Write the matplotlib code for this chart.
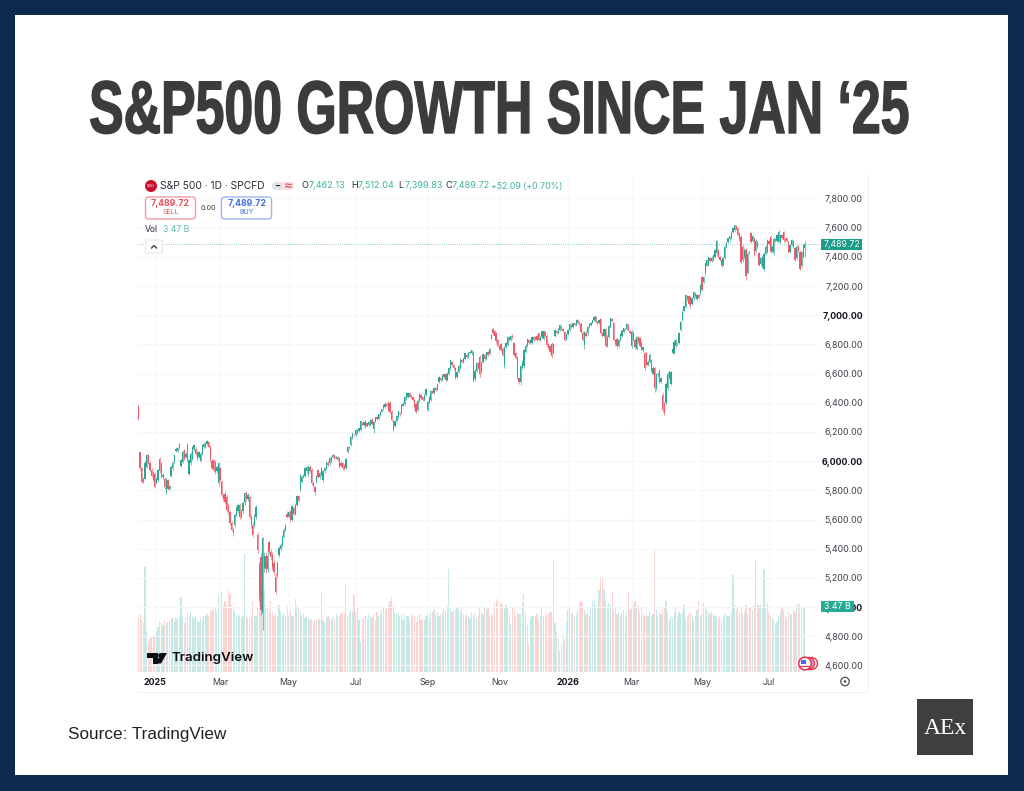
import numpy as np
import matplotlib
matplotlib.use("Agg")
import matplotlib.pyplot as plt
import matplotlib.patheffects as pe
from matplotlib.patches import Rectangle, FancyBboxPatch, Circle, Polygon
from matplotlib.transforms import Affine2D

# daily candles (bar 0 is the stray one at the left edge)
opens = [6380,6060,5950,5860,5880,5960,6040,5990,5940,5925,5915,5850,5870,6015,5985,5890,5880,5790,5870,5810,
         5897,5950,5995,6070,6070,6116,5965,5995,6075,6030,6116,5915,5984,6018,6080,6086,6064,6030,6002,6052,
         6100,6098,6116,6132,6098,6000,6006,5995,5930,5847,5950,5858,5770,5778,5755,5700,5653,5573,5530,5560,
         5630,5660,5700,5620,5660,5710,5780,5740,5756,5620,5560,5560,5620,5493,5288,5345,4960,5270,5350,5260,
         5448,5380,5356,5300,5208,5220,5356,5400,5425,5482,5530,5640,5620,5653,5600,5680,5640,5700,5760,5800,
         5860,5890,5900,5930,5904,5961,5940,5850,5820,5860,5940,5890,5905,5870,5930,5950,5990,5985,6000,6030,
         6041,6020,6030,6020,5990,5985,5970,5950,6060,6098,6110,6160,6180,6178,6190,6205,6212,6260,6250,6235,
         6260,6250,6247,6285,6220,6270,6300,6290,6315,6340,6361,6370,6395,6407,6400,6340,6270,6240,6275,6300,
         6330,6330,6380,6395,6430,6441,6468,6450,6440,6418,6395,6350,6415,6450,6440,6420,6455,6350,6400,6420,
         6480,6465,6500,6490,6544,6570,6555,6600,6595,6555,6600,6635,6680,6660,6640,6580,6610,6640,6690,6680,
         6703,6730,6715,6740,6738,6750,6560,6620,6670,6715,6610,6680,6725,6700,6745,6735,6840,6909,6890,6875,
         6830,6790,6805,6770,6660,6780,6795,6850,6830,6860,6810,6740,6715,6570,6540,6640,6650,6750,6790,6830,
         6810,6810,6850,6840,6860,6875,6830,6850,6840,6885,6860,6800,6790,6806,6740,6860,6890,6880,6897,6925,
         6905,6885,6840,6870,6900,6935,6920,6945,6932,6965,6950,6943,6880,6795,6880,6875,6920,6935,6950,6965,
         6993,6955,6950,6975,6880,6860,6905,6790,6850,6920,6975,6945,6830,6840,6790,6830,6860,6885,6905,6909,
         6935,6890,6790,6880,6830,6770,6850,6842,6810,6760,6739,6739,6660,6680,6690,6600,6637,6500,6590,6625,
         6545,6454,6397,6397,6500,6570,6530,6740,6739,6790,6810,6808,6899,6968,7030,7059,7130,7130,7125,7075,
         7115,7150,7110,7140,7150,7264,7230,7287,7340,7344,7390,7370,7380,7400,7424,7447,7400,7380,7345,7392,
         7470,7505,7520,7530,7570,7584,7610,7595,7560,7538,7470,7400,7447,7290,7425,7562,7510,7527,7440,7500,
         7424,7350,7335,7320,7420,7435,7510,7538,7440,7425,7520,7510,7505,7505,7550,7573,7515,7530,7504,7435,
         7480,7510,7460,7390,7470,7435,7340,7400,7462.13]
closes = [6290,5950,5860,5880,5990,6040,5990,5940,5900,5870,5825,5880,5940,5930,5890,5905,5820,5875,5810,5830,
          5961,5990,6041,6086,6090,6090,6006,6064,6018,6050,6006,6006,6052,6098,6110,6048,6018,6060,6052,6110,
          6120,6120,6139,6098,6006,5950,5938,5927,5960,5984,5870,5767,5740,5721,5664,5650,5573,5530,5505,5630,
          5680,5700,5620,5660,5710,5780,5740,5770,5620,5560,5493,5620,5687,5390,5070,4980,5470,5350,5260,5350,
          5380,5340,5276,5240,5105,5300,5402,5425,5482,5530,5560,5620,5650,5596,5690,5640,5700,5760,5730,5905,
          5890,5900,5950,5957,5961,5930,5847,5830,5790,5900,5890,5920,5950,5930,5950,5990,5975,6020,6030,6041,
          6020,6030,6010,5960,5970,5950,5945,6015,6098,6090,6167,6190,6178,6212,6212,6225,6276,6250,6265,6276,
          6240,6270,6281,6255,6270,6300,6290,6320,6340,6355,6384,6395,6380,6350,6338,6280,6213,6275,6310,6345,
          6320,6385,6395,6440,6464,6468,6440,6438,6420,6370,6340,6415,6460,6430,6420,6455,6495,6407,6440,6480,
          6465,6500,6490,6530,6578,6555,6590,6580,6555,6600,6640,6692,6660,6635,6570,6610,6650,6703,6680,6705,
          6738,6715,6740,6750,6760,6550,6620,6670,6640,6600,6680,6735,6700,6745,6730,6770,6863,6875,6860,6820,
          6790,6770,6760,6730,6780,6810,6850,6830,6860,6850,6730,6710,6570,6540,6650,6680,6760,6790,6838,6810,
          6830,6852,6830,6850,6830,6830,6850,6890,6893,6860,6795,6780,6750,6720,6800,6898,6880,6905,6932,6905,
          6890,6830,6870,6900,6943,6920,6945,6932,6970,6950,6940,6885,6830,6885,6860,6920,6940,6950,6965,6990,
          6955,6945,6970,6875,6860,6905,6790,6850,6925,6984,6960,6830,6800,6790,6830,6870,6895,6910,6900,6943,
          6900,6880,6886,6830,6780,6850,6820,6790,6762,6780,6637,6660,6680,6730,6620,6640,6500,6590,6600,6545,
          6570,6350,6330,6530,6600,6615,6612,6770,6819,6830,6800,6880,6956,7025,7060,7139,7110,7075,7060,7120,
          7160,7130,7140,7120,7205,7173,7264,7356,7380,7401,7370,7395,7412,7450,7509,7400,7380,7340,7390,7470,
          7500,7527,7540,7573,7595,7618,7590,7550,7520,7367,7380,7450,7270,7420,7430,7505,7540,7414,7510,7470,
          7345,7390,7400,7420,7470,7515,7490,7435,7470,7525,7510,7550,7573,7550,7530,7515,7520,7510,7435,7480,
          7516,7470,7380,7470,7440,7320,7430,7480,7489.72]
# wick lengths above the body top / below the body bottom
upper_wicks = [5,8,10,8,10,8,10,8,12,10,8,10,8,10,8,12,8,10,10,8,
               8,10,8,8,8,10,10,10,8,10,8,10,12,8,8,10,10,8,10,8,
               8,8,8,8,10,12,10,12,10,8,12,12,12,15,12,12,12,15,15,12,
               12,12,12,15,12,10,12,15,12,15,20,15,15,20,30,25,10,30,30,35,
               15,20,20,20,25,15,15,12,12,15,10,15,10,10,12,12,10,10,10,5,
               12,10,8,8,10,10,10,8,10,8,8,8,8,10,8,8,8,8,8,8,
               8,5,8,10,8,8,8,8,5,8,5,5,8,5,8,5,8,5,5,8,
               8,5,5,8,8,5,8,5,5,5,5,8,5,8,10,8,10,8,8,8,
               8,8,8,5,8,5,8,5,8,8,8,8,5,8,8,5,5,8,5,8,
               8,5,8,5,5,8,5,5,8,8,8,8,5,8,8,8,8,5,8,5,
               5,8,5,5,5,5,10,10,10,10,8,8,8,5,8,8,8,8,10,8,
               8,8,8,10,10,8,8,8,5,8,8,10,8,10,12,10,10,10,8,8,
               8,8,8,8,8,8,8,5,5,8,8,10,8,10,8,5,8,5,5,8,
               8,8,8,8,5,8,5,5,5,8,8,8,10,8,10,8,5,5,5,5,
               3,8,5,5,8,8,10,12,8,5,8,10,10,10,8,8,8,5,8,5,
               8,8,10,10,12,8,10,10,10,10,10,8,10,8,10,12,8,12,10,8,
               8,10,8,10,8,5,5,8,8,5,8,8,5,8,5,8,8,8,8,8,
               8,5,8,8,8,3,5,5,8,5,8,8,5,5,5,8,8,8,5,8,
               5,5,5,5,5,3,5,8,8,10,12,10,12,10,10,5,8,12,10,10,
               10,10,8,10,10,8,10,10,8,8,8,8,8,8,8,5,8,8,8,8,
               8,8,10,8,10,10,8,8,22.32]
lower_wicks = [5,10,8,10,10,8,10,8,10,8,8,8,10,10,8,10,8,15,10,8,
               8,10,8,5,8,8,8,8,10,8,10,8,8,10,8,8,10,8,10,8,
               8,5,5,8,10,12,10,12,10,15,12,12,12,15,12,12,12,12,15,12,
               12,12,15,12,12,10,12,12,15,15,12,15,15,20,30,35,120,30,25,20,
               15,20,20,20,15,15,12,12,15,10,10,10,12,10,12,10,12,10,10,8,
               10,8,10,8,10,10,8,8,25,8,8,10,8,10,8,8,8,8,8,8,
               5,8,8,10,8,8,8,5,5,8,8,5,8,8,5,8,8,5,8,8,
               5,8,8,8,25,5,8,5,5,5,8,8,8,10,8,8,8,8,8,8,
               8,8,5,8,8,8,5,8,8,10,8,8,8,8,8,8,8,8,8,8,
               8,5,8,5,8,5,8,8,8,8,8,8,5,8,10,8,8,8,8,5,
               5,5,8,8,8,8,10,10,8,25,8,8,5,8,8,8,5,8,8,8,
               8,8,8,10,25,8,8,8,8,10,8,10,10,12,20,10,10,8,8,8,
               8,8,8,8,8,8,8,8,8,8,10,10,10,10,8,8,8,8,8,5,
               8,8,8,5,8,5,8,5,5,8,8,8,10,25,8,8,8,8,5,5,
               8,8,8,10,8,8,10,10,8,8,8,10,8,12,8,8,8,8,8,8,
               10,8,15,10,12,10,12,10,10,12,12,10,10,10,10,10,23,10,10,12,
               10,10,13,10,10,8,8,8,8,8,8,8,8,8,8,8,10,8,10,8,
               8,10,8,10,8,8,8,8,5,8,8,8,8,10,8,8,10,10,8,8,
               8,8,8,5,8,8,8,8,12,10,12,12,28,10,8,8,8,10,8,8,
               10,10,10,20,10,8,8,10,8,10,8,8,8,8,8,10,10,8,10,10,
               8,8,10,10,10,10,10,10,62.3]
# volume in billions
volumes = [2.9,3.1,2.8,2.6,5.6,2.2,1.6,1.8,1.9,2.0,1.9,2.2,2.4,2.7,2.6,2.5,2.8,2.6,2.7,2.8,
           2.9,2.9,2.7,2.9,2.8,2.9,4.0,3.0,2.6,2.9,3.2,3.0,3.2,3.0,2.9,3.0,2.8,2.7,2.9,2.8,
           3.0,3.0,3.1,3.0,3.2,3.3,3.3,3.4,3.2,4.2,3.5,4.3,3.6,3.8,3.6,4.4,4.2,3.6,3.5,3.2,
           3.0,3.1,3.0,2.9,3.0,6.3,3.0,2.9,2.9,3.0,3.8,3.0,3.0,3.5,5.8,3.9,4.6,4.4,3.6,3.4,
           3.3,3.8,3.2,3.0,3.1,3.0,3.6,3.2,3.0,3.1,3.0,3.6,3.0,3.3,3.0,3.0,3.9,3.6,3.4,3.2,
           3.0,3.1,2.9,3.0,2.9,2.8,2.9,2.7,2.8,2.8,2.9,2.8,4.3,2.8,2.7,2.9,3.0,2.9,2.8,3.0,
           2.9,3.1,3.0,3.0,3.1,3.2,3.1,4.7,3.0,3.2,3.3,3.2,4.1,3.2,3.5,2.8,1.6,2.9,2.8,3.0,
           2.9,3.1,3.0,2.9,3.1,2.8,3.2,3.0,3.1,3.3,3.4,3.3,3.5,3.6,3.8,4.0,3.6,3.2,3.1,3.2,
           3.0,3.1,2.8,3.1,3.0,3.0,2.8,3.1,3.0,3.0,2.7,2.9,3.1,2.8,2.9,2.8,3.0,3.1,2.9,3.2,
           3.2,3.3,3.1,3.2,3.0,3.1,3.2,3.4,3.3,3.6,5.5,3.4,3.2,3.3,3.3,3.5,3.3,3.2,3.3,3.1,
           3.0,3.1,3.0,2.9,3.2,3.0,3.1,2.9,3.0,3.5,3.2,3.1,3.4,3.3,3.4,3.0,3.1,3.0,3.7,3.9,
           3.8,3.8,3.7,3.6,3.5,3.6,3.5,3.1,2.6,3.4,3.3,3.0,3.2,3.1,3.1,3.7,4.2,3.2,2.5,1.5,
           2.9,3.0,3.0,3.0,3.1,2.8,3.0,3.4,3.0,3.0,3.1,3.1,3.2,3.2,6.0,2.6,2.2,1.8,1.1,1.5,
           1.9,1.7,2.7,3.3,3.4,3.2,3.1,3.0,3.1,3.3,3.7,3.8,3.7,3.3,3.1,3.2,3.0,3.4,3.8,3.9,
           3.6,3.4,4.4,5.1,5.1,4.4,3.8,3.5,3.7,3.6,4.3,3.3,3.4,3.1,3.2,3.0,3.2,3.3,3.0,3.2,
           4.3,3.3,3.5,3.6,3.8,3.4,3.6,3.2,3.5,3.1,3.0,3.1,3.0,3.2,3.0,3.1,6.6,3.3,3.0,3.2,
           3.1,3.3,3.5,3.8,3.2,2.8,3.0,2.9,3.2,3.4,3.0,3.2,3.1,3.2,3.6,2.9,3.0,3.1,3.2,3.0,
           2.8,3.0,3.3,3.8,3.0,3.1,3.7,3.5,3.3,3.2,3.1,3.2,3.1,3.0,3.0,2.9,3.0,2.8,3.0,3.1,
           3.1,3.0,3.0,3.2,5.2,3.6,3.3,3.4,3.2,3.4,3.1,3.2,3.6,3.1,3.4,3.5,3.3,3.6,6.0,3.7,
           3.6,3.6,3.5,5.5,3.6,3.7,3.2,3.0,2.9,2.8,2.6,2.7,3.0,3.2,3.4,3.3,3.0,2.9,3.2,3.1,
           3.1,3.3,3.2,3.6,3.7,3.6,3.5,3.5,3.47]

month_pos = [10, 50, 92, 133, 177, 221, 263, 302, 345, 386]
month_labels = ['2025', 'Mar', 'May', 'Jul', 'Sep', 'Nov', '2026', 'Mar', 'May', 'Jul']
price_ticks = list(range(4600, 7801, 200))
last_price = 7489.72
last_volume = 3.47

GREEN = '#2aa792'
RED = '#ee5a68'
NAVY = '#0b2a4e'
INK = '#3c4048'
GRID = '#f6f7f9'
UI = 'Inter'

W, H = 1024, 791
fig = plt.figure(figsize=(W / 100, H / 100), dpi=100, facecolor=NAVY)


def rect_px(x0, y0, x1, y1):
    return [x0 / W, 1 - y1 / H, (x1 - x0) / W, (y1 - y0) / H]


class TallLetters(pe.AbstractPathEffect):
    # no condensed font is installed, so stretch the glyphs upward from the baseline
    def __init__(self, baseline, factor, stroke, color):
        super().__init__()
        self.baseline = baseline
        self.factor = factor
        self.stroke = stroke
        self.color = color

    def draw_path(self, renderer, gc, tpath, affine, rgbFace=None):
        tall = affine + Affine2D().translate(0, -self.baseline).scale(1, self.factor).translate(0, self.baseline)
        gc0 = renderer.new_gc()
        gc0.copy_properties(gc)
        gc0.set_linewidth(self.stroke)
        gc0.set_foreground(self.color)
        renderer.draw_path(gc0, tpath, tall, rgbFace)
        gc0.restore()


# white card behind everything
card = fig.add_axes([0, 0, 1, 1], zorder=0)
card.set_xlim(0, W)
card.set_ylim(H, 0)
card.axis('off')
card.add_patch(Rectangle((15, 15), 993, 760, fc='white', ec='none'))
card.plot([138, 868, 868], [692, 692, 175], color='#f0f1f4', lw=0.8)

o = np.array(opens)
c = np.array(closes)
hi = np.maximum(o, c) + np.array(upper_wicks)
lo = np.minimum(o, c) - np.array(lower_wicks)
idx = np.arange(len(o))
up = c >= o

# volume panel underneath, same x scale
ax_vol = fig.add_axes(rect_px(138, 175, 868, 672), zorder=1)
ax_vol.set_xlim(-0.3, 446.7)
ax_vol.set_ylim(0, 26.6)
ax_vol.axis('off')
ax_vol.bar(idx[up], np.array(volumes)[up], width=0.72, color='#c6e9e5', linewidth=0)
ax_vol.bar(idx[~up], np.array(volumes)[~up], width=0.72, color='#fcd4d2', linewidth=0)

ax = fig.add_axes(rect_px(138, 175, 868, 672), zorder=2)
ax.patch.set_alpha(0)
ax.set_xlim(-0.3, 446.7)
ax.set_ylim(4555, 7961)
for s in ax.spines.values():
    s.set_visible(False)

ax.hlines(price_ticks, -0.3, 417, color=GRID, lw=0.8, zorder=0)
ax.vlines(month_pos, 4555, 7961, color=GRID, lw=0.8, zorder=0)
ax.hlines(last_price, -0.3, 417, color=GREEN, lw=0.6, alpha=0.7, linestyles=(0, (1, 1.6)), zorder=1)

for mask, col in ((up, GREEN), (~up, RED)):
    ax.vlines(idx[mask], lo[mask], hi[mask], color=col, lw=0.45, zorder=2)
    ax.bar(idx[mask], np.abs(c - o)[mask], bottom=np.minimum(o, c)[mask], width=0.8,
           color=col, linewidth=0, zorder=3)

ax.yaxis.tick_right()
ax.set_yticks(price_ticks)
ax.set_yticklabels(['{:,.2f}'.format(p) for p in price_ticks])
ax.tick_params(axis='y', length=0, pad=-3.6, labelsize=6.4, labelcolor=INK)
for tick, p in zip(ax.yaxis.get_major_ticks(), price_ticks):
    tick.label2.set_horizontalalignment('right')
    tick.label2.set_fontfamily(UI)
    if p % 1000 == 0:
        tick.label2.set_fontweight('bold')
        tick.label2.set_color('#131722')

ax.set_xticks(month_pos)
ax.set_xticklabels(month_labels)
ax.tick_params(axis='x', length=0, pad=4.5, labelsize=6.4, labelcolor=INK)
for lab, txt in zip(ax.get_xticklabels(), month_labels):
    lab.set_fontfamily(UI)
    if txt.startswith('20'):
        lab.set_fontweight('bold')
        lab.set_color('#131722')

# overlay in pixel coordinates for the TradingView chrome
top = fig.add_axes([0, 0, 1, 1], zorder=3)
top.set_xlim(0, W)
top.set_ylim(H, 0)
top.axis('off')
top.patch.set_alpha(0)

title = top.text(499, 133, 'S&P500 GROWTH SINCE JAN \u201825', ha='center', va='baseline',
                 family='Liberation Sans', fontweight='bold', fontsize=37.3, color='#3c3c3c')
title.set_path_effects([TallLetters(H - 133, 1.44, 1.0, '#3c3c3c')])

# legend row
top.add_patch(Circle((151, 186), 6, fc='#c8102e', ec='none'))
top.text(151, 186.3, '500', ha='center', va='center', fontsize=3, color='white', family=UI)
top.text(160, 186, 'S&P 500 \u00b7 1D \u00b7 SPCFD', va='center', fontsize=7.4, color='#2a2e39', family=UI)
top.add_patch(FancyBboxPatch((276, 182), 18, 8, boxstyle='round,pad=0,rounding_size=4', fc='#fbe3e7', ec='none'))
top.add_patch(FancyBboxPatch((272, 182), 11, 8, boxstyle='round,pad=0,rounding_size=4', fc='#e4e5e8', ec='none'))
top.text(277.5, 185.8, '\u2501', ha='center', va='center', fontsize=5, color='#2a2e39', family='DejaVu Sans')
top.text(289, 185.8, '\u2248', ha='center', va='center', fontsize=8, color='#ef5360', family='DejaVu Sans', fontweight='bold')
for x, letter, val in ((302, 'O', '7,462.13'), (351, 'H', '7,512.04'), (398, 'L', '7,399.83'), (445, 'C', '7,489.72')):
    top.text(x, 186, letter, va='center', fontsize=6.6, color='#2a2e39', family=UI)
    top.text(x + 6.5, 186, val, va='center', fontsize=6.6, color='#42b3a2', family=UI)
top.text(491, 186, '+52.09 (+0.70%)', va='center', fontsize=6.3, color='#42b3a2', family=UI)

# sell / buy boxes
top.add_patch(FancyBboxPatch((145.5, 197), 50, 22, boxstyle='round,pad=0,rounding_size=3', fc='white', ec='#f29ca3', lw=1))
top.add_patch(FancyBboxPatch((221.5, 197), 50, 22, boxstyle='round,pad=0,rounding_size=3', fc='white', ec='#9bb5f2', lw=1))
top.text(170.5, 203.5, '7,489.72', ha='center', va='center', fontsize=6.3, color='#e8505b', family=UI, fontweight='bold')
top.text(170.5, 212.5, 'SELL', ha='center', va='center', fontsize=5, color='#e8505b', family=UI)
top.text(247, 203.5, '7,489.72', ha='center', va='center', fontsize=6.3, color='#3f6fe0', family=UI, fontweight='bold')
top.text(247, 212.5, 'BUY', ha='center', va='center', fontsize=5, color='#3f6fe0', family=UI)
top.text(208.5, 207.5, '0.00', ha='center', va='center', fontsize=5.2, color=INK, family=UI)
top.text(145, 230, 'Vol', va='center', fontsize=6.2, color='#2a2e39', family=UI)
top.text(163, 230, '3.47 B', va='center', fontsize=6.2, color='#5cbdb0', family=UI)

top.add_patch(FancyBboxPatch((145.5, 240), 17, 13, boxstyle='round,pad=0,rounding_size=2', fc='white', ec='#e6e7ea', lw=0.8))
top.plot([151.5, 154, 156.5], [248, 245.5, 248], color='#2a2e39', lw=0.9)

# last value tags
top.add_patch(Rectangle((821, 239), 41, 11, fc='#1a9c87', ec='none'))
top.text(841.5, 244.5, '{:,.2f}'.format(last_price), ha='center', va='center', fontsize=6.3, color='white', family=UI)
top.add_patch(Rectangle((821, 601), 33, 11, fc='#26a995', ec='none'))
top.text(837.5, 606.5, '{:.2f} B'.format(last_volume), ha='center', va='center', fontsize=6.3, color='white', family=UI)

# settings gear
top.add_patch(Circle((845, 681.5), 4.2, fc='white', ec='#4a4e57', lw=0.9))
top.add_patch(Circle((845, 681.5), 1.3, fc='#4a4e57', ec='none'))

# event markers
top.add_patch(Circle((811.5, 663.5), 6, fc='white', ec='#e8344f', lw=1))
top.add_patch(Circle((808.5, 663.5), 6, fc='#f0a0ab', ec='#e8344f', lw=1))
top.add_patch(Circle((805, 663.5), 6.3, fc='#f7f7f9', ec='#e8344f', lw=1.1))
top.add_patch(Rectangle((801, 660), 5, 3.5, fc='#3f6fe0', ec='none'))
top.plot([800, 810], [665.5, 665.5], color='#e8344f', lw=0.8)

# TradingView logo
top.add_patch(Polygon([(147, 653), (158, 653), (158, 663.5), (152.5, 663.5), (152.5, 658), (147, 658)], fc='#0c0e15', ec='none'))
top.add_patch(Circle((160.5, 655.5), 2.4, fc='#0c0e15', ec='none'))
top.add_patch(Polygon([(161, 663.5), (155.5, 663.5), (161.5, 653), (167, 653)], fc='#0c0e15', ec='none'))
top.text(171, 658.5, 'TradingView', va='center', fontsize=9.6, color='#0c0e15', family=UI, fontweight='semibold')

# footer
top.text(68, 734, 'Source: TradingView', va='center', fontsize=12.3, color='#222222', family='Liberation Sans')
top.add_patch(Rectangle((917, 699), 56, 56, fc='#3f3f3f', ec='none'))
top.text(945, 728, 'AEx', ha='center', va='center', fontsize=17, color='white', family='Liberation Serif')

fig.savefig('out.png', dpi=100, facecolor=NAVY)
